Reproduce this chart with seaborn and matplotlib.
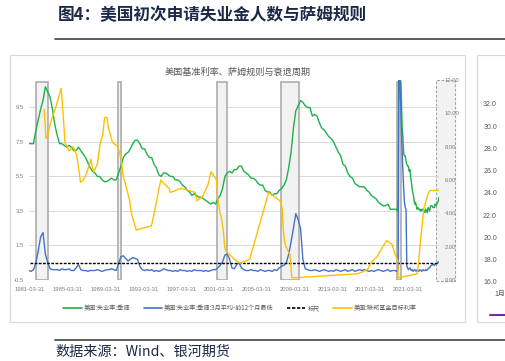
import numpy as np
import pandas as pd
import matplotlib
matplotlib.use("Agg")
import matplotlib.pyplot as plt
import seaborn as sns
from matplotlib.patches import Rectangle
from matplotlib.lines import Line2D

sns.set_theme(style="white")
plt.rcParams['font.family'] = ['Noto Sans CJK SC', 'DejaVu Sans']

# ---------------- data ----------------
# US unemployment rate (SA), quarterly 1981Q1-2019Q4
unemp_q = [7.4, 7.4, 7.4, 8.2, 8.8, 9.4, 9.9, 10.7, 10.4, 10.1, 9.4, 8.5,
           7.9, 7.4, 7.4, 7.3, 7.2, 7.3, 7.2, 7.0, 7.0, 7.2, 7.0, 6.8,
           6.6, 6.3, 6.0, 5.8, 5.7, 5.5, 5.5, 5.3, 5.2, 5.2, 5.3, 5.4,
           5.3, 5.3, 5.7, 6.1, 6.6, 6.8, 6.9, 7.1, 7.4, 7.6, 7.6, 7.4,
           7.1, 7.1, 6.8, 6.6, 6.6, 6.2, 6.0, 5.6, 5.5, 5.7, 5.7, 5.6,
           5.5, 5.5, 5.3, 5.3, 5.2, 5.0, 4.9, 4.7, 4.6, 4.4, 4.5, 4.4,
           4.3, 4.3, 4.2, 4.1, 4.0, 3.9, 4.0, 3.9, 4.2, 4.4, 4.8, 5.5,
           5.7, 5.8, 5.7, 5.9, 5.9, 6.1, 6.1, 5.8, 5.7, 5.6, 5.4, 5.4,
           5.3, 5.1, 5.0, 5.0, 4.7, 4.6, 4.6, 4.4, 4.5, 4.5, 4.7, 4.8,
           5.0, 5.3, 6.0, 6.9, 8.3, 9.3, 9.6, 9.9, 9.8, 9.6, 9.5, 9.5,
           9.0, 9.1, 9.0, 8.6, 8.3, 8.2, 8.0, 7.8, 7.7, 7.5, 7.2, 6.9,
           6.7, 6.2, 6.1, 5.7, 5.5, 5.4, 5.1, 5.0, 4.9, 4.9, 4.9, 4.7,
           4.6, 4.4, 4.3, 4.2, 4.0, 3.9, 3.8, 3.8, 3.9, 3.6, 3.6, 3.6]
# monthly 2020-01 .. 2024-07
unemp_m = [3.6, 3.5, 4.4, 14.7, 13.2, 11.0, 10.2, 8.4, 7.8, 6.8, 6.7, 6.7,
           6.4, 6.2, 6.1, 6.1, 5.8, 5.9, 5.4, 5.1, 4.7, 4.5, 4.2, 3.9,
           4.0, 3.8, 3.6, 3.7, 3.6, 3.6, 3.5, 3.6, 3.5, 3.6, 3.6, 3.5,
           3.4, 3.6, 3.5, 3.4, 3.7, 3.6, 3.5, 3.8, 3.8, 3.8, 3.7, 3.7,
           3.7, 3.9, 3.8, 3.9, 4.0, 4.1, 4.3]

# Sahm indicator (3m avg - prior 12m low), quarterly 1981Q1-2019Q4
sahm_q = [0.05, 0.0, 0.1, 0.5, 1.2, 2.0, 2.25, 1.0, 0.5, 0.15, 0.1, 0.1,
          0.1, 0.05, 0.15, 0.1, 0.1, 0.15, 0.05, 0.05, 0.2, 0.4, 0.1, 0.05,
          0.05, 0.0, 0.05, 0.05, 0.05, 0.1, 0.05, 0.0, 0.05, 0.1, 0.1, 0.15,
          0.1, 0.05, 0.45, 0.85, 0.9, 0.75, 0.6, 0.7, 0.8, 0.75, 0.7, 0.3,
          0.1, 0.05, 0.1, 0.05, 0.1, 0.0, 0.05, 0.0, 0.05, 0.15, 0.1, 0.05,
          0.05, 0.0, 0.05, 0.0, 0.1, 0.05, 0.05, 0.0, 0.05, 0.0, 0.1, 0.05,
          0.05, 0.05, 0.0, 0.05, 0.0, 0.05, 0.1, 0.1, 0.2, 0.35, 0.55, 0.95,
          1.0, 0.7, 0.2, 0.15, 0.4, 0.5, 0.2, 0.1, 0.05, 0.05, 0.1, 0.05,
          0.05, 0.0, 0.1, 0.05, 0.0, 0.05, 0.05, 0.0, 0.1, 0.05, 0.2, 0.3,
          0.35, 0.5, 1.0, 1.7, 2.5, 3.35, 3.0, 2.5, 0.7, 0.15, 0.1, 0.05,
          0.05, 0.1, 0.05, 0.0, 0.05, 0.1, 0.05, 0.0, 0.05, 0.0, 0.1, 0.05,
          0.0, 0.05, 0.1, 0.0, 0.05, 0.1, 0.0, 0.05, 0.1, 0.05, 0.1, 0.05,
          0.0, 0.05, 0.0, 0.05, 0.1, 0.05, 0.0, 0.05, 0.1, 0.0, 0.05, 0.05]
# monthly 2020-01 .. 2024-07
sahm_m = [0.0, 0.0, 0.3, 11.5, 11.5, 10.0, 8.5, 7.0, 5.8, 4.8, 4.0, 3.7,
          3.6, 0.3, 0.2, 0.1, 0.15, 0.2, 0.1, 0.05, 0.1, 0.0, 0.05, 0.1,
          0.05, 0.0, 0.1, 0.05, 0.0, 0.05, 0.1, 0.05, 0.0, 0.05, 0.1, 0.05,
          0.05, 0.1, 0.05, 0.1, 0.15, 0.2, 0.2, 0.3, 0.35, 0.35, 0.4, 0.4,
          0.35, 0.4, 0.45, 0.45, 0.5, 0.55, 0.55]

# Fed funds target rate (right axis), change dates in decimal years
ff_dates = [1982.74, 1982.95, 1983.1, 1983.45, 1984.0, 1984.55, 1984.75, 1984.95,
            1985.4, 1985.8, 1986.2, 1986.35, 1986.6, 1986.9, 1987.3, 1987.7,
            1987.85, 1988.0, 1988.4, 1988.65, 1988.95, 1989.15, 1989.4, 1989.5,
            1989.85, 1990.0, 1990.55, 1990.9, 1991.1, 1991.35, 1991.8, 1991.97,
            1992.5, 1994.1, 1994.3, 1994.65, 1994.9, 1995.1, 1995.5, 1995.97,
            1996.1, 1997.25, 1998.75, 1998.9, 1999.5, 1999.9, 2000.1, 2000.4,
            2000.99, 2001.1, 2001.35, 2001.5, 2001.7, 2001.85, 2001.95, 2002.87,
            2003.49, 2004.5, 2006.5, 2007.7, 2007.95, 2008.05, 2008.2, 2008.33,
            2008.77, 2008.83, 2008.96, 2015.96, 2016.96, 2017.2, 2017.45, 2017.96,
            2018.2, 2018.45, 2018.74, 2018.97, 2019.58, 2019.7, 2019.83, 2020.17,
            2020.21, 2022.21, 2022.34, 2022.46, 2022.57, 2022.72, 2022.84, 2022.96,
            2023.09, 2023.22, 2023.34, 2023.57, 2024.55]
ff_vals = [10.25, 8.5, 8.6, 9.5, 10.4, 11.5, 10.0, 8.25,
           7.75, 8.0, 7.5, 6.875, 5.875, 6.0, 6.5, 7.25,
           6.75, 6.5, 7.0, 8.125, 8.75, 9.75, 9.75, 9.25,
           8.5, 8.25, 8.0, 7.25, 6.25, 5.75, 4.75, 4.0,
           3.0, 3.25, 3.75, 4.75, 5.5, 6.0, 5.75, 5.5,
           5.25, 5.5, 5.25, 4.75, 5.0, 5.5, 5.75, 6.5,
           6.0, 5.0, 4.0, 3.75, 3.0, 2.0, 1.75, 1.25,
           1.0, 1.25, 5.25, 4.75, 4.25, 3.0, 2.25, 2.0,
           1.5, 1.0, 0.125, 0.375, 0.625, 0.875, 1.125, 1.375,
           1.625, 1.875, 2.125, 2.375, 2.125, 1.875, 1.625, 1.125,
           0.125, 0.375, 0.875, 1.625, 2.375, 3.125, 3.875, 4.375,
           4.625, 4.875, 5.125, 5.375, 5.375]

ruler_dates = [1981.25, 2024.55]
ruler_vals = [0.5, 0.5]

rec_start = [1981.9, 1990.6, 2001.05, 2007.85, 2020.05]
rec_end = [1983.2, 1990.9, 2002.1, 2009.75, 2020.55]

xtick_pos = [1981.25, 1985.25, 1989.25, 1993.25, 1997.25, 2001.25, 2005.25,
             2009.25, 2013.25, 2017.25, 2021.25]
xtick_labels = ['1981-03-31', '1985-03-31', '1989-03-31', '1993-03-31', '1997-03-31',
                '2001-03-31', '2005-03-31', '2009-03-31', '2013-03-31', '2017-03-31',
                '2021-03-31']
left_ticks = [-0.5, 1.5, 3.5, 5.5, 7.5, 9.5]
right_ticks = [0, 2, 4, 6, 8, 10, 12]
side_ticks = [16, 18, 20, 22, 24, 26, 28, 30, 32]

labels = ['美国:失业率:季调', '美国:失业率:季调:3月平均-前12个月最低', '标尺', '美国:联邦基金目标利率']

# build frames (period mid-points)
q_x = 1981 + np.arange(len(unemp_q)) * 0.25 + 0.125
m_x = 2020 + np.arange(len(unemp_m)) / 12 + 1 / 24
df_u = pd.DataFrame({'x': np.concatenate([q_x, m_x]), 'y': unemp_q + unemp_m})
df_s = pd.DataFrame({'x': np.concatenate([q_x, m_x]), 'y': sahm_q + sahm_m})
df_f = pd.DataFrame({'x': ff_dates, 'y': ff_vals})
df_r = pd.DataFrame({'x': ruler_dates, 'y': ruler_vals})

# ---------------- figure ----------------
W, H = 506, 361
fig = plt.figure(figsize=(W / 100, H / 100), dpi=100)
fig.patch.set_facecolor('white')

def fx(p):
    return p / W

def fy(p):
    return 1 - p / H

GREEN, BLUE, YELLOW = '#1fb04b', '#4472c4', '#ffc000'
TICK = '#7f7f7f'

# panel borders
fig.add_artist(Rectangle((fx(10), fy(322)), fx(455), 267 / H, transform=fig.transFigure,
                         fc='white', ec='#d9d9d9', lw=0.8, zorder=-3))
fig.add_artist(Rectangle((fx(477), fy(322)), fx(60), 267 / H, transform=fig.transFigure,
                         fc='white', ec='#d9d9d9', lw=0.8, zorder=-3))
# right-axis selection box
fig.add_artist(Rectangle((fx(436), fy(281)), fx(19), 201 / H, transform=fig.transFigure,
                         fc='#f2f2f2', ec='#a6a6a6', ls=(0, (2.5, 1.5)), lw=0.8, zorder=-1))

ax = fig.add_axes([fx(29), fy(280), fx(410), 200 / H])
ax.set_facecolor('none')
ax.set_xlim(1981.144, 2024.53)
ax.set_ylim(-0.5, 11.09)

for s, e in zip(rec_start, rec_end):
    ax.axvspan(s, e, ymin=0, ymax=0.99, fc='#f2f2f2', ec='#a6a6a6', lw=1.1, zorder=1)

ax.set_yticks(left_ticks)
ax.set_yticklabels([f'{v:.1f}' for v in left_ticks])
ax.grid(axis='y', color='#d9d9d9', lw=0.7)
ax.set_axisbelow(True)

sns.lineplot(data=df_u, x='x', y='y', ax=ax, color=GREEN, lw=1.0, legend=False, zorder=3)
sns.lineplot(data=df_s, x='x', y='y', ax=ax, color=BLUE, lw=1.0, legend=False, zorder=3)
sns.lineplot(data=df_r, x='x', y='y', ax=ax, color='black', lw=1.0, legend=False, zorder=4,
             dashes=False)
ax.lines[-1].set_linestyle((0, (2, 1)))

ax.set_xticks(xtick_pos)
ax.set_xticklabels(xtick_labels)
ax.set_xlabel('')
ax.set_ylabel('')
for sp in ax.spines.values():
    sp.set_visible(False)
ax.tick_params(axis='both', length=0, colors=TICK, labelsize=4.2)
ax.tick_params(axis='x', pad=5)
ax.tick_params(axis='y', pad=3.5)
for t in ax.get_xticklabels() + ax.get_yticklabels():
    t.set_fontfamily(['Liberation Sans', 'DejaVu Sans'])

ax2 = ax.twinx()
ax2.set_facecolor('none')
ax2.set_ylim(0, 12)
sns.lineplot(data=df_f, x='x', y='y', ax=ax2, color=YELLOW, lw=1.0, legend=False, zorder=3)
ax2.set_yticks(right_ticks)
ax2.set_yticklabels([f'{v:.2f}' for v in right_ticks])
ax2.set_ylabel('')
for sp in ax2.spines.values():
    sp.set_visible(False)
ax2.tick_params(axis='y', length=0, colors=TICK, labelsize=4.2, pad=4.3)
for t in ax2.get_yticklabels():
    t.set_fontfamily(['Liberation Sans', 'DejaVu Sans'])
ax2.grid(False)

# chart title
fig.text(fx(238), fy(72), '美国基准利率、萨姆规则与衰退周期', ha='center', va='center',
         fontsize=6.6, color='#595959')

# legend
handles = [Line2D([], [], color=GREEN, lw=1.2),
           Line2D([], [], color=BLUE, lw=1.2),
           Line2D([], [], color='black', lw=1.2, ls=(0, (2, 1))),
           Line2D([], [], color=YELLOW, lw=1.2)]
fig.legend(handles, labels, loc='center', bbox_to_anchor=(fx(240), fy(308)), ncol=4,
           frameon=False, fontsize=4.4, handlelength=3.0, handletextpad=0.35,
           columnspacing=2.2, borderpad=0, labelcolor='#595959')

# side (cropped) chart
ax3 = fig.add_axes([fx(500), fy(282), fx(30), 178 / H])
ax3.set_facecolor('none')
ax3.set_ylim(16, 32)
ax3.set_xlim(0, 1)
ax3.set_yticks(side_ticks)
ax3.set_yticklabels([f'{v:.1f}' for v in side_ticks])
ax3.set_xticks([0.0])
ax3.set_xticklabels(['1月'])
for sp in ax3.spines.values():
    sp.set_visible(False)
ax3.tick_params(axis='both', length=0, colors='#595959', labelsize=5)
ax3.tick_params(axis='y', pad=2.2)
ax3.tick_params(axis='x', pad=6)
for t in ax3.get_yticklabels():
    t.set_fontfamily(['Liberation Sans', 'DejaVu Sans'])
fig.add_artist(Line2D([fx(490), fx(506)], [fy(315), fy(315)], color='#7030a0', lw=1.5))

# header / footer
NAVY = '#1c2a48'
fig.text(fx(58), fy(15), '图4：美国初次申请失业金人数与萨姆规则', ha='left', va='center',
         fontsize=12, fontweight='bold', color=NAVY)
fig.add_artist(Line2D([fx(55), 1], [fy(39), fy(39)], color='#404040', lw=1.2))
fig.add_artist(Line2D([fx(55), 1], [fy(340), fy(340)], color='#404040', lw=1.2))
fig.text(fx(55), fy(352), '数据来源：Wind、银河期货', ha='left', va='center',
         fontsize=10.2, color=NAVY)

fig.savefig('out.png', dpi=100)
